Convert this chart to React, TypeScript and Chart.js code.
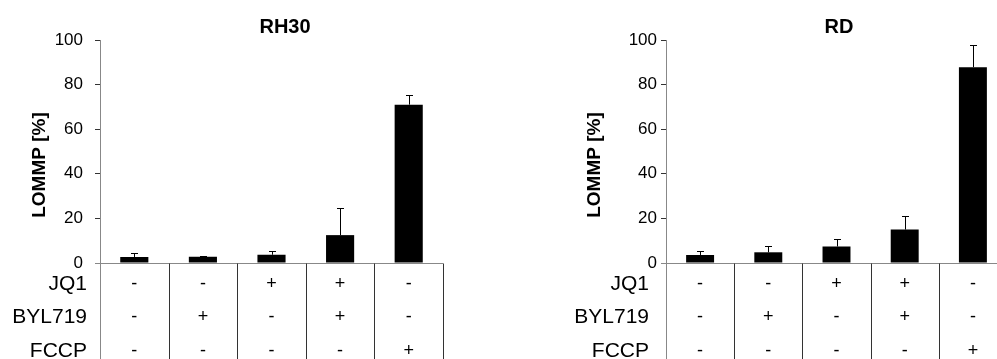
import React, { useEffect, useRef } from 'react';
import { Chart, registerables } from 'chart.js';

Chart.register(...registerables);

const FONT = "Arial, 'Liberation Sans', sans-serif";

const categories = ['Control', 'BYL719', 'JQ1', 'JQ1 + BYL719', 'FCCP'];
const rh30Values = [2.7, 2.8, 3.7, 12.5, 71];
const rh30Errors = [2.0, 0.5, 1.7, 12.1, 4.2];
const rdValues = [3.6, 4.8, 7.4, 15, 87.8];
const rdErrors = [1.7, 2.8, 3.4, 6.0, 9.9];

const treatmentNames = ['JQ1', 'BYL719', 'FCCP'];
const jq1Signs = ['-', '-', '+', '+', '-'];
const byl719Signs = ['-', '+', '-', '+', '-'];
const fccpSigns = ['-', '-', '-', '-', '+'];
const treatmentSigns = [jq1Signs, byl719Signs, fccpSigns];

const yMin = 0;
const yMax = 100;
const yStep = 20;
const yAxisTitle = 'LOMMP [%]';

type PanelProps = {
  title: string;
  values: number[];
  errors: number[];
  canvasLeft: number;
  canvasWidth: number;
  axisX: number;
  plotRight: number;
  tickPad: number;
  titleX: number;
  yTitleX: number;
  labelRight: number;
};

const H = 359;

function Panel(p: PanelProps) {
  const ref = useRef<HTMLCanvasElement | null>(null);
  useEffect(() => {
    if (!ref.current) return;
    const decor = {
      id: 'decor',
      afterDatasetsDraw(chart: any) {
        const ctx = chart.ctx as CanvasRenderingContext2D;
        const { left, right, bottom } = chart.chartArea;
        const xs = chart.scales.x;
        const ys = chart.scales.y;
        const meta = chart.getDatasetMeta(0);
        ctx.save();
        // error bars (upper only)
        ctx.strokeStyle = '#000';
        ctx.lineWidth = 1;
        meta.data.forEach((bar: any, i: number) => {
          const yTop = Math.round(ys.getPixelForValue(p.values[i] + p.errors[i])) + 0.5;
          const x = Math.round(bar.x) + 0.5;
          ctx.beginPath();
          ctx.moveTo(x, bar.y);
          ctx.lineTo(x, yTop);
          ctx.moveTo(x - 3.5, yTop);
          ctx.lineTo(x + 3.5, yTop);
          ctx.stroke();
        });
        const yb = Math.round(bottom) + 0.5;
        // x axis line
        ctx.strokeStyle = '#888';
        ctx.beginPath();
        ctx.moveTo(left - 5, yb);
        ctx.lineTo(right, yb);
        ctx.stroke();
        // y axis continuing through table
        const xl = Math.round(left) + 0.5;
        ctx.beginPath();
        ctx.moveTo(xl, yb);
        ctx.lineTo(xl, H);
        ctx.stroke();
        // dividers
        const half = (xs.getPixelForValue(1) - xs.getPixelForValue(0)) / 2;
        ctx.strokeStyle = '#333';
        for (let i = 0; i < categories.length; i++) {
          const x = Math.round(xs.getPixelForValue(i) + half) + 0.5;
          ctx.beginPath();
          ctx.moveTo(x, yb);
          ctx.lineTo(x, H);
          ctx.stroke();
        }
        // table
        const rowOffsets = [21, 54, 88];
        ctx.fillStyle = '#000';
        ctx.textBaseline = 'middle';
        treatmentNames.forEach((name, r) => {
          const y = bottom + rowOffsets[r];
          ctx.font = `21px ${FONT}`;
          ctx.textAlign = 'right';
          ctx.fillText(name, p.labelRight, y);
          ctx.font = `18px ${FONT}`;
          ctx.textAlign = 'center';
          treatmentSigns[r].forEach((s, i) => {
            ctx.fillText(s, xs.getPixelForValue(i), y);
          });
        });
        // title
        ctx.font = `bold 20px ${FONT}`;
        ctx.textAlign = 'center';
        ctx.fillText(p.title, p.titleX, 27);
        // y title
        ctx.save();
        ctx.translate(p.yTitleX, 165);
        ctx.rotate(-Math.PI / 2);
        ctx.font = `bold 19px ${FONT}`;
        ctx.fillText(yAxisTitle, 0, 0);
        ctx.restore();
        ctx.restore();
      },
    };
    const chart = new Chart(ref.current, {
      type: 'bar',
      data: {
        labels: categories,
        datasets: [
          {
            data: p.values,
            backgroundColor: '#000',
            borderWidth: 0,
            categoryPercentage: 1,
            barPercentage: 0.41,
          },
        ],
      },
      options: {
        responsive: false,
        animation: false,
        devicePixelRatio: 1,
        layout: {
          padding: { left: 0, right: p.canvasWidth - p.plotRight, top: 40, bottom: H - 263 },
        },
        plugins: {
          legend: { display: false },
          tooltip: { enabled: false },
          title: { display: false },
        },
        scales: {
          x: { display: false, offset: true },
          y: {
            min: yMin,
            max: yMax,
            ticks: {
              stepSize: yStep,
              color: '#000',
              font: { family: FONT, size: 17 },
              padding: p.tickPad,
            },
            grid: { drawOnChartArea: false, drawTicks: true, tickLength: 5, color: '#333' },
            border: { display: true, color: '#888', width: 1 },
            afterFit: (s: any) => {
              s.width = p.axisX;
            },
          },
        },
      },
      plugins: [decor],
    } as any);
    return () => chart.destroy();
  }, []);
  return (
    <canvas
      ref={ref}
      width={p.canvasWidth}
      height={H}
      style={{ position: 'absolute', left: p.canvasLeft, top: 0, width: p.canvasWidth, height: H }}
    />
  );
}

export default function App() {
  return (
    <div
      style={{
        position: 'fixed',
        left: 0,
        top: 0,
        width: 997,
        height: H,
        overflow: 'hidden',
        background: '#fff',
      }}
    >
      <Panel
        title="RH30"
        values={rh30Values}
        errors={rh30Errors}
        canvasLeft={0}
        canvasWidth={470}
        axisX={100}
        plotRight={443}
        tickPad={12}
        titleX={285}
        yTitleX={40}
        labelRight={87}
      />
      <Panel
        title="RD"
        values={rdValues}
        errors={rdErrors}
        canvasLeft={500}
        canvasWidth={520}
        axisX={166}
        plotRight={507}
        tickPad={4}
        titleX={339}
        yTitleX={95}
        labelRight={149}
      />
    </div>
  );
}
